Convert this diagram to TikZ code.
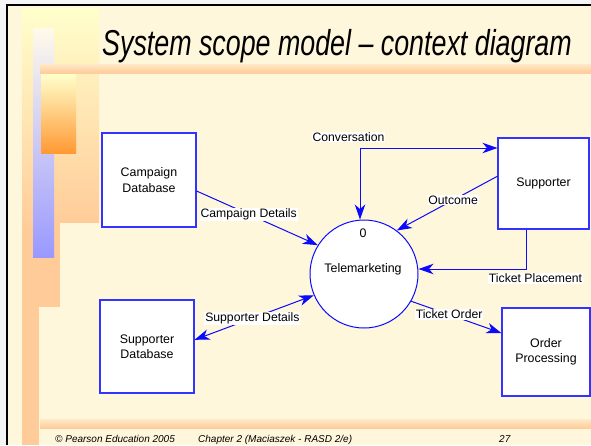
\documentclass[tikz,border=0pt]{standalone}
\usepackage{fontspec}
\setmainfont{Liberation Sans}
\usetikzlibrary{arrows.meta,calc}

\definecolor{cream}{HTML}{FFF7DC}
\definecolor{peach}{HTML}{FFCC99}
\definecolor{lyellow}{HTML}{FFFFCC}
\definecolor{orng}{HTML}{FF9933}
\definecolor{lav}{HTML}{9999FF}
\definecolor{flowblue}{HTML}{0A0AFF}
\definecolor{boxblue}{HTML}{3333FF}

\tikzset{
  tip/.style={Stealth[length=15pt,width=10.5pt,inset=4.5pt]},
  entity/.style={draw=boxblue, line width=1.1pt, fill=white, inner sep=0pt,
    align=center, font=\fontsize{12.4}{15.5}\selectfont},
  process/.style={circle, draw=flowblue, line width=1pt, fill=white,
    minimum size=108pt, inner sep=0pt},
  inner/.style={inner sep=0pt, font=\fontsize{12.4}{14}\selectfont},
  flow/.style={draw=flowblue, line width=1pt, -{Stealth[length=15pt,width=10.5pt,inset=4.5pt]}},
  biflow/.style={draw=flowblue, line width=1pt,
    {Stealth[length=15pt,width=10.5pt,inset=4.5pt]}-{Stealth[length=15pt,width=10.5pt,inset=4.5pt]}},
  lbl/.style={fill=white, inner sep=0.8pt, font=\fontsize{12.2}{14}\selectfont},
  foot/.style={anchor=base west, inner sep=0pt, font=\fontsize{10}{12}\selectfont\itshape}
}

\begin{document}
\begin{tikzpicture}[x=1pt,y=-1pt]
\useasboundingbox (0,0) rectangle (591,445);

% slide frame
\fill[gray!8] (0,0) rectangle (591,445);
\fill[cream] (7,5) rectangle (591,445);

% decorative bars on the left
\shade[top color=lyellow, bottom color=peach] (28,8) rectangle (99,222);
\shade[top color=lyellow, bottom color=peach] (22,8) rectangle (39,230);
\fill[peach] (22,229) rectangle (39,445);
\fill[peach] (35,222) rectangle (60,307);
\shade[top color=cream!60!white, bottom color=lav] (33,28) rectangle (54,257);
\shade[top color=lyellow, bottom color=orng] (41,74) rectangle (76,153);

% horizontal rules
\shade[top color=peach!35!cream, bottom color=peach] (40,64) rectangle (591,73);
\shade[top color=peach!30!cream, bottom color=peach] (40,419) rectangle (591,428);

\draw[line width=2pt] (7,445) -- (7,5) -- (591,5);

% title
\node[anchor=base west, inner sep=0pt, font=\fontsize{36}{40}\selectfont\itshape]
  (title) at (102,55) {\scalebox{0.745}[1]{System scope model – context diagram}};

% external entities and the process
\node[entity, minimum width=94pt, minimum height=94pt] (campdb) at (149,180) {Campaign\\Database};
\node[entity, minimum width=91pt, minimum height=91pt] (supp) at (543.5,183.5) {Supporter};
\node[entity, minimum width=94pt, minimum height=93pt] (suppdb) at (147,346.5) {Supporter\\Database};
\node[entity, minimum width=88pt, minimum height=88pt] (order) at (546,352) {Order\\Processing};
\node[process] (tele) at (364,274) {};
\node[inner] (num) at (363,233) {0};
\node[inner] (telename) at (363,269) {Telemarketing};

% data flows
\draw[flow] (campdb.-13) -- node[lbl, pos=0.43] {Campaign Details} (tele.148);
\draw[biflow] (suppdb.8) -- node[lbl, pos=0.485] {Supporter Details} (tele.203);

\coordinate (cv) at (360,148);
\draw[biflow] (cv |- tele.north) -- (cv) -- (cv -| supp.west);
\node[lbl] (convlbl) at (348.5,137) {Conversation};

\draw[flow] (supp.171) -- node[lbl, pos=0.44] {Outcome} (tele.53);

\coordinate (tp) at (526,269);
\draw[flow] (tp |- supp.south) -- (tp) -- (tele.east |- tp);
\node[lbl] (tplbl) at (535.5,278.5) {Ticket Placement};

\draw[flow] (tele.-30) -- node[lbl, pos=0.42] {Ticket Order} (order.157);

% footer
\node[foot] (copy) at (55,442) {© Pearson Education 2005};
\node[foot] (chap) at (198,442) {Chapter 2 (Maciaszek - RASD 2/e)};
\node[foot] (page) at (499,442) {27};
\end{tikzpicture}
\end{document}
